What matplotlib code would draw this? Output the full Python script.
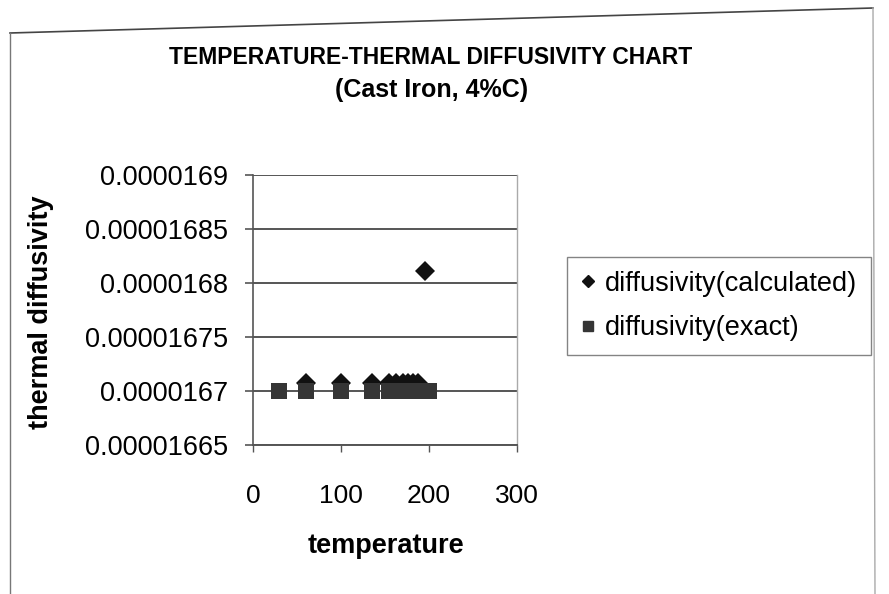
import matplotlib
matplotlib.use("Agg")
import matplotlib.pyplot as plt
from matplotlib.lines import Line2D

# data
temp_exact = [30, 60, 100, 135, 155, 160, 165, 170, 175, 180, 185, 190, 195, 200]
diff_exact = [1.6700e-5] * len(temp_exact)

temp_calc = [60, 100, 135, 155, 162, 170, 176, 182, 188, 195]
diff_calc = [1.67074e-5, 1.67074e-5, 1.67074e-5, 1.67074e-5, 1.67074e-5,
             1.67074e-5, 1.67074e-5, 1.67074e-5, 1.67074e-5, 1.68110e-5]

x_ticks = [0, 100, 200, 300]
y_ticks = [1.665e-5, 1.67e-5, 1.675e-5, 1.68e-5, 1.685e-5, 1.69e-5]
y_tick_labels = ["0.00001665", "0.0000167", "0.00001675", "0.0000168",
                 "0.00001685", "0.0000169"]

plt.rcParams["font.family"] = ["Liberation Sans", "DejaVu Sans"]

W, H = 889, 594
fig = plt.figure(figsize=(W / 100, H / 100), dpi=100)
ax = fig.add_axes([253 / W, 1 - 445 / H, (517 - 253) / W, (445 - 175) / H])

grid_col = "#555555"
ax.plot(temp_calc, diff_calc, marker="D", markersize=10, linestyle="none",
        color="#111111", markeredgewidth=0, zorder=3)
ax.plot(temp_exact, diff_exact, marker="s", markersize=11.5, linestyle="none",
        color="#353535", markeredgewidth=0, zorder=4)

ax.set_xlim(0, 300)
ax.set_ylim(1.665e-5, 1.69e-5)
ax.set_xticks(x_ticks)
ax.set_xticklabels([str(t) for t in x_ticks], fontsize=19)
ax.set_yticks(y_ticks)
ax.set_yticklabels(y_tick_labels, fontsize=19.5)
ax.yaxis.grid(True, color=grid_col, linewidth=1.4)
ax.set_axisbelow(True)
ax.tick_params(axis="y", length=6, width=1.2, color=grid_col, pad=12)
ax.tick_params(axis="x", length=5, width=1.0, color=grid_col, pad=23)
ax.spines["top"].set_visible(False)
ax.spines["left"].set_color(grid_col)
ax.spines["left"].set_linewidth(1.2)
ax.spines["bottom"].set_color(grid_col)
ax.spines["bottom"].set_linewidth(1.4)
ax.spines["right"].set_color("#aaaaaa")
ax.spines["right"].set_linewidth(1.0)

ax.set_xlabel("temperature", fontsize=19.5, fontweight="bold", va="center")
ax.xaxis.set_label_coords((386 - 253) / 264, -(546 - 445) / 270)
ax.set_ylabel("thermal diffusivity", fontsize=19.5, fontweight="bold", va="center")
ax.yaxis.set_label_coords((41 - 253) / 264, (445 - 312) / 270)

fig.text(431 / W, 1 - 58 / H, "TEMPERATURE-THERMAL DIFFUSIVITY CHART",
         ha="center", va="center", fontsize=16.5, fontweight="bold")
fig.text(432 / W, 1 - 90 / H, "(Cast Iron, 4%C)",
         ha="center", va="center", fontsize=18, fontweight="bold")

handles = [
    Line2D([], [], marker="D", linestyle="none", color="#111111", markersize=6.5),
    Line2D([], [], marker="s", linestyle="none", color="#353535", markersize=6.5),
]
leg = fig.legend(handles, ["diffusivity(calculated)", "diffusivity(exact)"],
                 loc="upper left", bbox_to_anchor=(567 / W, 1 - 257 / H),
                 fontsize=19.5, frameon=True, fancybox=False, borderaxespad=0,
                 handlelength=0.55, handletextpad=0.35, borderpad=0.5,
                 labelspacing=0.7)
leg.get_frame().set_edgecolor("#666666")
leg.get_frame().set_linewidth(1.0)

# outer chart frame (photographed slightly skewed)
fig.add_artist(Line2D([10 / W, 873 / W], [1 - 33 / H, 1 - 8 / H],
                      transform=fig.transFigure, color="#444444", linewidth=1.2))
fig.add_artist(Line2D([10 / W, 10 / W], [1 - 33 / H, 0],
                      transform=fig.transFigure, color="#777777", linewidth=1.0))
fig.add_artist(Line2D([873 / W, 875 / W], [1 - 8 / H, 0],
                      transform=fig.transFigure, color="#aaaaaa", linewidth=1.0))

fig.savefig("out.png", dpi=100)
